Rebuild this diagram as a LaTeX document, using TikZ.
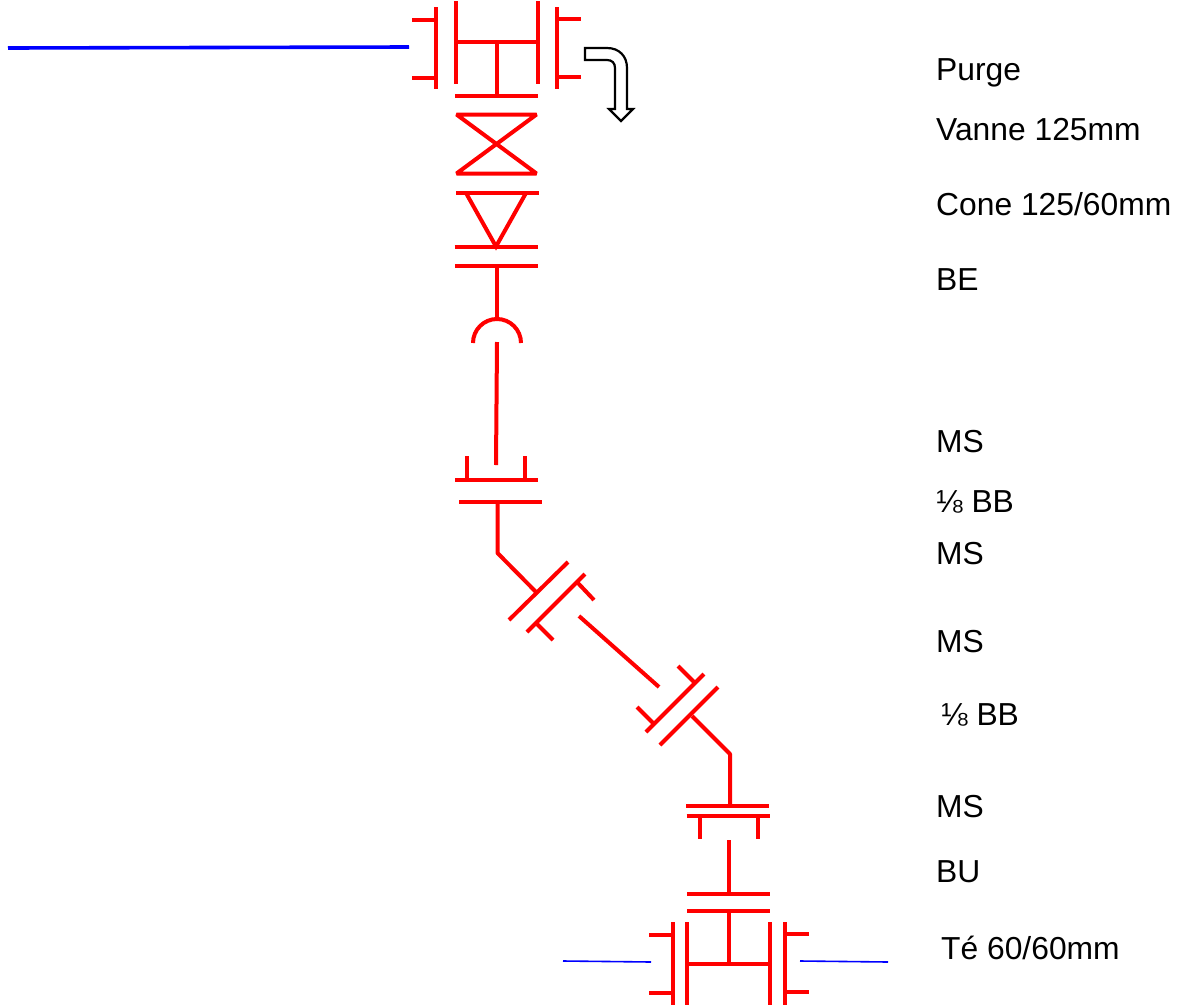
\documentclass[tikz,border=0pt]{standalone}
\usepackage{fontspec}
\setmainfont{Liberation Sans}
\definecolor{pipe}{RGB}{255,0,0}
\definecolor{line}{RGB}{0,0,255}
\tikzset{
  pipe/.style={draw=pipe,line width=4pt},
  feed/.style={draw=line,line width=3.6pt},
  branch/.style={draw=line,line width=1.6pt},
  lab/.style={anchor=base west,inner sep=0pt,font=\fontsize{31.8pt}{36pt}\selectfont,text=black},
  purge/.style={draw=black,line width=2.2pt,fill=white,line join=miter}
}
\begin{document}
\begin{tikzpicture}[x=1pt,y=-1pt]
\useasboundingbox (0,0) rectangle (1187,1007);
% blue lines
\draw[feed] (8,48) -- (409,47);
\draw[branch] (563,961) -- (651,962);
\draw[branch] (800,961) -- (888,962);
% top tee
\draw[pipe] (436,7) -- (436,89);
\draw[pipe] (412,20) -- (436,20);
\draw[pipe] (412,78) -- (436,78);
\draw[pipe] (456,1) -- (456,84);
\draw[pipe] (538,1) -- (538,84);
\draw[pipe] (456,42) -- (538,42);
\draw[pipe] (497,42) -- (497,95);
\draw[pipe] (455,95.5) -- (538,95.5);
\draw[pipe] (557,7) -- (557,89);
\draw[pipe] (557,19) -- (581,19);
\draw[pipe] (557,77) -- (581,77);
% purge arrow
\draw[purge] (585,48) -- (607,48) .. controls (619,48) and (627,56) .. (627,68) -- (627,109) -- (633,109) -- (621,121) -- (609,109) -- (615,109) -- (615,68) .. controls (615,63) and (612,60) .. (607,60) -- (585,60) -- cycle;
% valve
\draw[pipe,line join=bevel] (456.5,114.5) -- (536.5,114.5) -- (456.5,173.5) -- (536.5,173.5) -- cycle;
% cone
\draw[pipe] (456,193) -- (539,193);
\draw[pipe] (466,193) -- (496,246.5) -- (526,193);
\draw[pipe] (454.5,247) -- (537.5,247);
\draw[pipe] (455,266) -- (538,266);
\draw[pipe] (497,266) -- (497,320);
% BE arc
\draw[pipe] (473,343) arc[start angle=180,end angle=360,radius=24];
\draw[pipe] (497,342) -- (496,465);
% flange pair 1
\draw[pipe] (455,480) -- (538,480);
\draw[pipe] (467,456) -- (467,480);
\draw[pipe] (525,456) -- (525,480);
\draw[pipe] (459,502) -- (542,502);
\draw[pipe,line join=round] (497.5,502) -- (497.5,553) -- (537,593);
% diagonal flange pair 1
\draw[pipe] (509,620) -- (568,562);
\draw[pipe] (527,632) -- (585,574);
\draw[pipe] (536,623) -- (553,640);
\draw[pipe] (577,582) -- (594,600);
\draw[pipe] (579,616) -- (659,687);
% diagonal flange pair 2
\draw[pipe] (646,732) -- (704,674);
\draw[pipe] (637,707) -- (653,723);
\draw[pipe] (678,666) -- (694,682);
\draw[pipe] (660,745) -- (718,687);
\draw[pipe,line join=round] (692,716) -- (730,754) -- (730,807);
% flange pair 2
\draw[pipe] (686,805.7) -- (769,805.7);
\draw[pipe] (686.5,815.5) -- (769.5,815.5);
\draw[pipe] (699.5,816) -- (699.5,839);
\draw[pipe] (757.5,816) -- (757.5,839);
\draw[pipe] (728.5,840) -- (728.5,894);
\draw[pipe] (687,893.7) -- (770,893.7);
\draw[pipe] (687,910.7) -- (770,910.7);
% bottom tee
\draw[pipe] (729,911) -- (729,964);
\draw[pipe] (687,964) -- (770,964);
\draw[pipe] (687,922) -- (687,1005);
\draw[pipe] (770,922) -- (770,1005);
\draw[pipe] (673,922) -- (673,1005);
\draw[pipe] (649,935) -- (673,935);
\draw[pipe] (649,993) -- (673,993);
\draw[pipe] (785,922) -- (785,1005);
\draw[pipe] (785,934) -- (809,934);
\draw[pipe] (785,992) -- (809,992);
% labels
\node[lab] (l1) at (936,80) {Purge};
\node[lab] (l2) at (936,140) {Vanne 125mm};
\node[lab] (l3) at (936,215) {Cone 125/60mm};
\node[lab] (l4) at (936,290) {BE};
\node[lab] (l5) at (936,452) {MS};
\node[lab] (l6) at (936,512) {⅛ BB};
\node[lab] (l7) at (936,564) {MS};
\node[lab] (l8) at (936,652) {MS};
\node[lab] (l9) at (941,725) {⅛ BB};
\node[lab] (l10) at (936,817) {MS};
\node[lab] (l11) at (936,882) {BU};
\node[lab] (l12) at (941,959) {Té 60/60mm};
\end{tikzpicture}
\end{document}
